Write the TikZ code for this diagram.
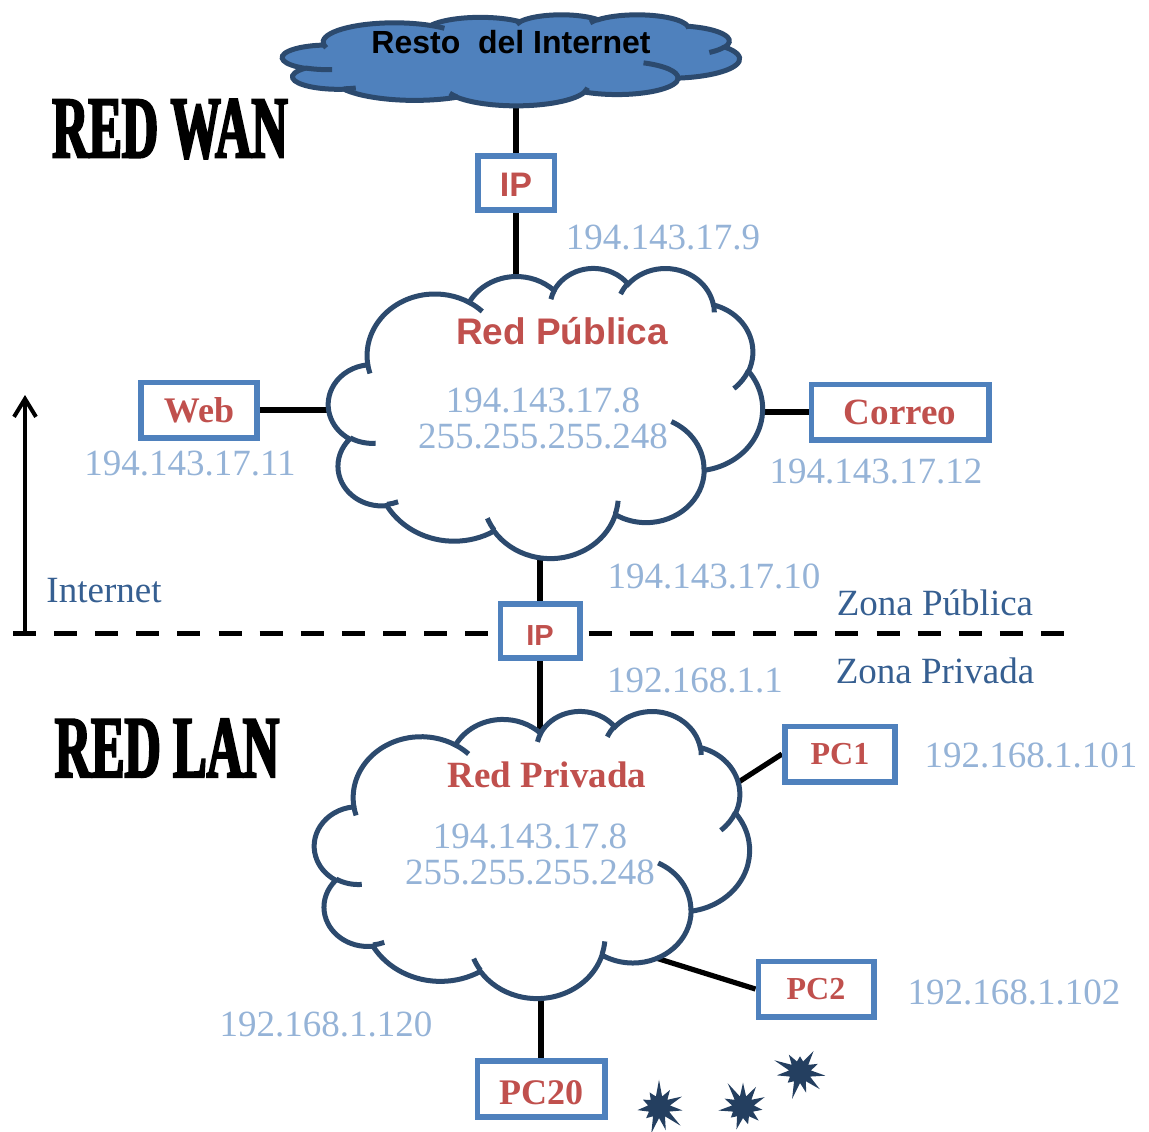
\documentclass[tikz,border=0pt]{standalone}
\usepackage{fontspec}
\setmainfont{Liberation Serif}
\newfontfamily\arialfont{Liberation Sans}
\newfontfamily\wanfont{Liberation Serif}[FakeStretch=0.57,BoldFeatures={FakeBold=2.5}]
\usetikzlibrary{shapes.symbols,arrows.meta,backgrounds}
\definecolor{boxblue}{HTML}{4F81BD}
\definecolor{netred}{HTML}{C0504D}
\definecolor{ipblue}{HTML}{95B3D7}
\definecolor{zoneblue}{HTML}{365F91}
\definecolor{cloudline}{HTML}{2C4A6E}
\definecolor{starnavy}{HTML}{243F60}
\newcommand{\HostBox}[3][]{\node[hostbox,#1] (#2) {#3};}
\newcommand{\Addr}[3][]{\node[addr,#1] (#2) {#3};}
\newcommand{\Lower}[2]{\raisebox{-#1}[\height][0pt]{#2}}
\newcommand{\NetCloud}[6]{%
  \node[minimum width=#4*0.5pt, minimum height=#5*0.5pt, inner sep=0pt] (#1) at (#2,#3) {};
  \begin{scope}[shift={(#2,#3)}, x=1pt, y=1pt, xscale=#4/864, yscale=-#5/864, shift={(-216,-216)}]
    \draw[cloudedge, fill=#6] (39.00,143.70)
      arc[x radius=67.53, y radius=91.90, start angle=-187.75, end angle=-59.66]
      arc[x radius=53.33, y radius=72.67, start angle=-152.03, end angle=-45.46]
      arc[x radius=43.65, y radius=59.45, start angle=-153.48, end angle=-37.33]
      arc[x radius=48.57, y radius=65.95, start angle=-139.70, end angle=-10.21]
      arc[x radius=53.33, y radius=72.73, start angle=-74.76, end angle=23.21]
      arc[x radius=67.75, y radius=92.20, start angle=-37.55, end angle=81.86]
      arc[x radius=57.85, y radius=78.67, start angle=0.46, end angle=121.95]
      arc[x radius=67.52, y radius=92.15, start angle=16.84, end angle=146.24]
      arc[x radius=77.20, y radius=105.43, start angle=59.01, end angle=150.17]
      arc[x radius=43.60, y radius=59.18, start angle=83.30, end angle=223.10]
      arc[x radius=43.45, y radius=59.45, start angle=120.36, end angle=264.11] -- cycle;
    \draw[cloudedge] (46.93,261.77) arc[x radius=43.45, y radius=59.45, start angle=85.54, end angle=120.36]
      (69.28,348.99) arc[x radius=43.60, y radius=59.18, start angle=68.25, end angle=83.30]
      (164.78,390.90) arc[x radius=67.52, y radius=92.15, start angle=146.24, end angle=158.48]
      (288.27,347.51) arc[x radius=67.52, y radius=92.15, start angle=4.74, end angle=16.84]
      (341.29,229.54) arc[x radius=57.85, y radius=78.67, start angle=-63.99, end angle=0.46]
      (417.98,153.54) arc[x radius=53.33, y radius=72.73, start angle=23.21, end angle=49.65]
      (383.24,54.26) arc[x radius=48.57, y radius=65.95, start angle=-10.21, end angle=0.82]
      (290.78,39.52) arc[x radius=48.57, y radius=65.95, start angle=-156.28, end angle=-139.70]
      (221.41,47.20) arc[x radius=43.65, y radius=59.45, start angle=-167.72, end angle=-153.48]
      (140.00,51.92) arc[x radius=67.53, y radius=91.90, start angle=-59.66, end angle=-45.73]
      (41.27,157.89) arc[x radius=67.53, y radius=91.90, start angle=163.19, end angle=172.25];
  \end{scope}}

\begin{document}
\begin{tikzpicture}[x=0.5pt, y=-0.5pt,
  hostbox/.style={draw=boxblue, line width=2.8pt, fill=white, inner sep=0pt, text=netred},
  cloudedge/.style={draw=cloudline, line width=2.5pt},
  addr/.style={text=ipblue, font=\fontsize{18.5}{18}\selectfont, align=center},
  zone/.style={text=zoneblue, font=\fontsize{18.5}{18}\selectfont},
  link/.style={line width=2.6pt},
  spark/.style={starburst, fill=starnavy, starburst points=11, starburst point height=9pt, minimum size=29pt, inner sep=0pt}]
\useasboundingbox (0,0) rectangle (1149,1131);

\NetCloud{wan}{511}{60}{457}{91}{boxblue}
\node[font=\arialfont\bfseries\fontsize{16}{16}\selectfont] (wantxt) at (511,42) {Resto\ \ del Internet};
\NetCloud{pub}{545.5}{412.5}{434}{290}{white}
\node[text=netred, font=\arialfont\bfseries\fontsize{18.5}{18}\selectfont] (pubtxt) at (562,331) {Red Pública};
\Addr[at={(543,418)}]{pubaddr}{194.143.17.8\\255.255.255.248}
\NetCloud{priv}{532}{854}{435}{287}{white}
\node[text=netred, font=\bfseries\fontsize{18.5}{18}\selectfont] (privtxt) at (547,775) {Red Privada};
\Addr[at={(530,854)}]{privaddr}{194.143.17.8\\255.255.255.248}

\HostBox[at={(516,183)}, minimum width=38.3pt, minimum height=27.2pt, font=\arialfont\bfseries\fontsize{17}{17}\selectfont]{ip1}{\Lower{1pt}{IP}}
\HostBox[at={(199,410)}, minimum width=58.2pt, minimum height=27.7pt, font=\bfseries\fontsize{18}{18}\selectfont]{web}{Web}
\HostBox[at={(900,412)}, minimum width=88.7pt, minimum height=27.7pt, font=\bfseries\fontsize{18.5}{18}\selectfont]{correo}{Correo}
\HostBox[at={(540,631)}, minimum width=39.7pt, minimum height=27.2pt, font=\arialfont\bfseries\fontsize{14.5}{14}\selectfont]{ip2}{\Lower{2.5pt}{IP}}
\HostBox[at={(840,754)}, minimum width=55.2pt, minimum height=27.7pt, font=\bfseries\fontsize{16}{16}\selectfont]{pc1}{PC1}
\HostBox[at={(816,989)}, minimum width=57.7pt, minimum height=27.7pt, font=\bfseries\fontsize{16}{16}\selectfont]{pc2}{PC2}
\HostBox[at={(541,1089)}, minimum width=63.7pt, minimum height=28.2pt, font=\bfseries\fontsize{18}{18}\selectfont]{pc20}{\Lower{2pt}{PC20}}

\Addr[at={(663,238)}]{a9}{194.143.17.9}
\Addr[at={(190,463)}]{a11}{194.143.17.11}
\Addr[at={(876,471)}]{a12}{194.143.17.12}
\Addr[at={(714,576)}]{a10}{194.143.17.10}
\Addr[at={(695,680)}]{a1}{192.168.1.1}
\Addr[at={(1031,755)}]{a101}{192.168.1.101}
\Addr[at={(1014,992)}]{a102}{192.168.1.102}
\Addr[at={(326,1024)}]{a120}{192.168.1.120}

\node[zone] (inet) at (104,591) {Internet};
\node[zone] (zpub) at (935,603) {Zona Pública};
\node[zone] (zpriv) at (935,671) {Zona Privada};

\node[font=\wanfont\bfseries\fontsize{44}{44}\selectfont] (redwan) at (170,129) {RED WAN};
\node[font=\wanfont\bfseries\fontsize{44}{44}\selectfont] (redlan) at (167,748) {RED LAN};

\node[spark, random starburst=7] (s1) at (659,1107) {};
\node[spark, random starburst=11] (s2) at (743,1107) {};
\node[spark, random starburst=23] (s3) at (800,1072) {};

\coordinate (zl) at (13,633);
\coordinate (zr) at (1064,633);
\coordinate (arrbot) at (25,633);
\coordinate (arrtop) at (25,395);
\coordinate (pc1in) at (720,794);
\coordinate (pc2in) at (640,953);

\begin{pgfonlayer}{background}
\draw[link] (ip1) -- (ip1 |- wan.center);
\draw[link] (ip1) -- (ip1 |- pub.center);
\draw[link] (web) -- (web -| pub.center);
\draw[link] (correo) -- (correo -| pub.center);
\draw[link] (ip2) -- (ip2 |- pub.center);
\draw[link] (ip2) -- (ip2 |- priv.center);
\draw[link] (pc1.west) -- (pc1in);
\draw[link] (pc2.west) -- (pc2in);
\draw[link] (pc20) -- (pc20 |- priv.center);
\draw[line width=2.5pt, dash pattern=on 11.5pt off 9.06pt] (zl) -- (zr);
\draw[line width=2pt, -{Straight Barb[length=9pt,width=11pt]}] (arrbot) -- (arrtop);
\end{pgfonlayer}
\end{tikzpicture}
\end{document}
